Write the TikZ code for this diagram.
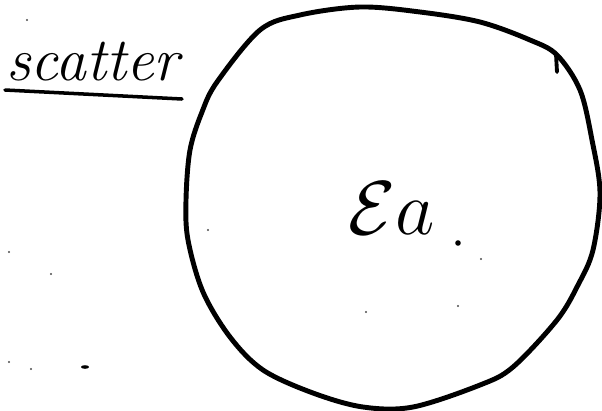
\documentclass[tikz,border=0pt]{standalone}
\usepackage{tikz}
\usetikzlibrary{calc}
\usepackage{amsmath,amssymb}
\usepackage{graphicx}
\usepackage{xcolor}
\tikzset{
  pen/.style={line width=2.8pt,line cap=round,line join=round},
  speck/.style={black!70},
}

\begin{document}
\begin{tikzpicture}[x=0.02cm,y=-0.02cm]
  \useasboundingbox (0,0) rectangle (602,410);
  % the big loop
  \draw[pen] plot[smooth cycle,tension=0.55] coordinates{
    (360,7) (420,12) (480,22) (530,40) (557,55) (580,90) (592,140)
    (600,193) (593,250) (578,285) (557,320) (513,367) (480,385)
    (413,407) (363,407) (313,393) (263,370) (230,337) (203,292)
    (188,240) (186,200) (190,150) (202,112) (217,82) (260,30) (300,15)};
  \draw[pen,line width=2.2pt](556,54)--(557,72);
  % labels
  \node[font=\fontsize{35}{38}\selectfont\itshape,anchor=base west,inner sep=0pt]
    (title) at (6,80){scatter};
  \draw[pen,line width=2pt](5,90)--(182,99);
  \node[font=\Huge,anchor=base west,inner sep=0pt]
    (ea) at (348,234){\scalebox{1.75}{$\mathcal{E}a$}};
  \fill (458,243) circle(2.8);
  % stray specks
  \foreach \p in {(27,20),(9,252),(51,274),(9,362),(31,369),(208,230),
                  (366,312),(481,259),(458,306)}
    \fill[speck] \p circle(1.2);
  \fill (85,367) ellipse(4 and 1.8);
\end{tikzpicture}
\end{document}
